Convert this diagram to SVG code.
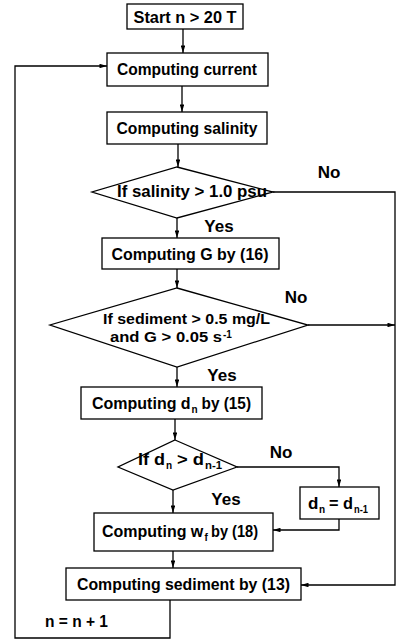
<svg xmlns="http://www.w3.org/2000/svg" width="399" height="639" viewBox="0 0 399 639">
  <style>
    .box { fill: #fff; stroke: #000; stroke-width: 1.3; }
    .dia { fill: #fff; stroke: #000; stroke-width: 1.3; }
    .t { font-family: "Liberation Sans", Arial, sans-serif; font-weight: bold; font-size: 17px; fill: #000; }
    .c { text-anchor: middle; }
    .sm { font-size: 10px; }
    .md { font-size: 15.5px; }
    .lg { font-size: 16px; }
    .ln { fill: none; stroke: #000; stroke-width: 1.3; }
  </style>
  <defs>
    <marker id="ah" viewBox="0 0 10 6" refX="10" refY="3" markerWidth="8" markerHeight="4.5" markerUnits="userSpaceOnUse" orient="auto">
      <path d="M0,0 L10,3 L0,6 Z" fill="#000"/>
    </marker>
  </defs>

  <rect width="399" height="639" fill="#fff"/>

  <!-- connectors -->
  <g id="connectors">
    <path class="ln" d="M183,29 V53" marker-end="url(#ah)"/>
    <path class="ln" d="M182,86 V112" marker-end="url(#ah)"/>
    <path class="ln" d="M178,144 V167" marker-end="url(#ah)"/>
    <path class="ln" d="M177,218 V238" marker-end="url(#ah)"/>
    <path class="ln" d="M177,269 V288" marker-end="url(#ah)"/>
    <path class="ln" d="M177,367 V387" marker-end="url(#ah)"/>
    <path class="ln" d="M175,419 V440" marker-end="url(#ah)"/>
    <path class="ln" d="M173,490 V513" marker-end="url(#ah)"/>
    <path class="ln" d="M173,551 V568" marker-end="url(#ah)"/>
    <!-- salinity "No" branch -->
    <path class="ln" d="M273,192 H395 V585 H301" marker-end="url(#ah)"/>
    <!-- sediment/G "No" branch -->
    <path class="ln" d="M308,325 H395" marker-end="url(#ah)"/>
    <!-- d_n "No" branch -->
    <path class="ln" d="M237,467 H339 V487" marker-end="url(#ah)"/>
    <path class="ln" d="M339,519 V530 H273" marker-end="url(#ah)"/>
    <!-- time-step loop -->
    <path class="ln" d="M170,600 V638 H15 V66 H107" marker-end="url(#ah)"/>
  </g>

  <g id="start">
    <rect class="box" x="127" y="4" width="116" height="25"/>
    <text class="t c" x="185" y="23" textLength="103" lengthAdjust="spacingAndGlyphs">Start n &gt; 20 T</text>
  </g>

  <g id="current">
    <rect class="box" x="107" y="53" width="161" height="33"/>
    <text class="t c" x="187" y="75" textLength="140" lengthAdjust="spacingAndGlyphs">Computing current</text>
  </g>

  <g id="salinity">
    <rect class="box" x="107" y="112" width="160" height="32"/>
    <text class="t c" x="187" y="134" textLength="141" lengthAdjust="spacingAndGlyphs">Computing salinity</text>
  </g>

  <g id="salinity-check">
    <polygon class="dia" points="177,167 273,192 177,218 92,192"/>
    <text class="t c" x="192" y="197" textLength="150" lengthAdjust="spacingAndGlyphs">If salinity &gt; 1.0 psu</text>
    <text class="t c" x="329" y="178">No</text>
    <text class="t c" x="219" y="232">Yes</text>
  </g>

  <g id="shear">
    <rect class="box" x="102" y="238" width="177" height="31"/>
    <text class="t c" x="190" y="260" textLength="157" lengthAdjust="spacingAndGlyphs">Computing G by (16)</text>
  </g>

  <g id="sediment-check">
    <polygon class="dia" points="177,288 308,325 177,367 50,325"/>
    <text class="t md c" x="186.5" y="324" textLength="167" lengthAdjust="spacingAndGlyphs">If sediment &gt; 0.5 mg/L</text>
    <text class="t md" x="110" y="342" textLength="112" lengthAdjust="spacingAndGlyphs">and G &gt; 0.05 s</text>
    <text class="t sm" x="223" y="337.5">-1</text>
    <text class="t c" x="296" y="303">No</text>
    <text class="t c" x="222" y="381">Yes</text>
  </g>

  <g id="floc-size">
    <rect class="box" x="81" y="387" width="181" height="32"/>
    <text class="t lg" x="92" y="409">Computing d</text>
    <text class="t sm" x="191.5" y="413">n</text>
    <text class="t lg" x="201.5" y="409" textLength="49.5" lengthAdjust="spacingAndGlyphs">by (15)</text>
  </g>

  <g id="size-check">
    <polygon class="dia" points="175,440 237,467 173,490 118,467"/>
    <text class="t" x="138" y="465" textLength="27" lengthAdjust="spacingAndGlyphs">If d</text>
    <text class="t sm" x="166" y="469">n</text>
    <text class="t" x="177" y="465" textLength="27" lengthAdjust="spacingAndGlyphs">&gt; d</text>
    <text class="t sm" x="205" y="469" textLength="17" lengthAdjust="spacingAndGlyphs">n-1</text>
  </g>

  <g id="branch-labels">
    <text class="t c" x="281" y="458">No</text>
    <text class="t c" x="226" y="505">Yes</text>
  </g>

  <g id="size-keep">
    <rect class="box" x="300" y="487" width="79" height="32"/>
    <text class="t" x="308" y="509">d</text>
    <text class="t sm" x="319" y="513">n</text>
    <text class="t" x="329" y="509" textLength="24" lengthAdjust="spacingAndGlyphs">= d</text>
    <text class="t sm" x="354" y="513" textLength="14" lengthAdjust="spacingAndGlyphs">n-1</text>
  </g>

  <g id="settling">
    <rect class="box" x="94" y="513" width="179" height="38"/>
    <text class="t lg" x="102" y="537">Computing w</text>
    <text class="t sm" x="204.5" y="541">f</text>
    <text class="t lg" x="211" y="537" textLength="47" lengthAdjust="spacingAndGlyphs">by (18)</text>
  </g>

  <g id="sediment">
    <rect class="box" x="66" y="568" width="235" height="32"/>
    <text class="t c" x="183.5" y="590" textLength="213" lengthAdjust="spacingAndGlyphs">Computing sediment by (13)</text>
  </g>

  <g id="step">
    <text class="t c" x="76.5" y="627" textLength="63" lengthAdjust="spacingAndGlyphs">n = n + 1</text>
  </g>
</svg>
